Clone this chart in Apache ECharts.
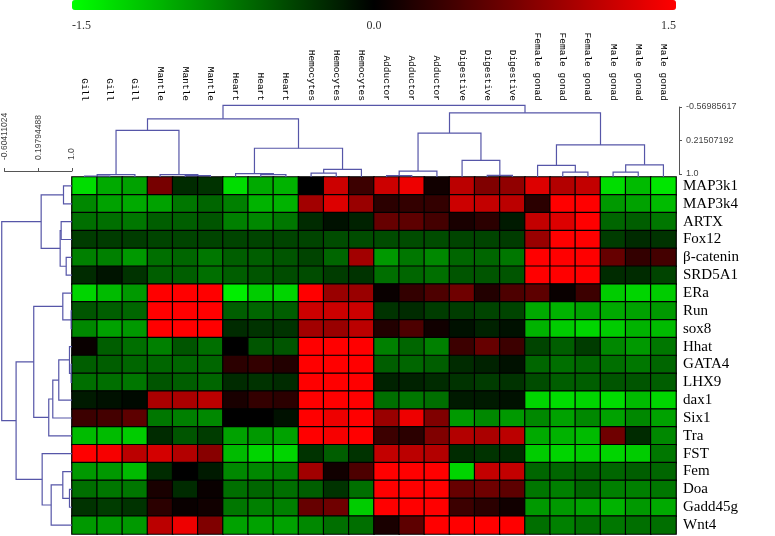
<!DOCTYPE html>
<html><head><meta charset="utf-8">
<script src="https://cdn.jsdelivr.net/npm/echarts@6/dist/echarts.min.js"></script>
<style>html,body{margin:0;padding:0;background:#fff}#c{width:775px;height:536px}</style>
</head><body><div id="c"></div>
<script>
// ---- column / row labels ----
const columns = ['Gill','Gill','Gill','Mantle','Mantle','Mantle','Heart','Heart','Heart',
  'Hemocytes','Hemocytes','Hemocytes','Adductor','Adductor','Adductor','Digestive','Digestive','Digestive',
  'Female gonad','Female gonad','Female gonad','Male gonad','Male gonad','Male gonad'];
const genes = ['MAP3k1','MAP3k4','ARTX','Fox12','β-catenin','SRD5A1','ERa','Run','sox8','Hhat',
  'GATA4','LHX9','dax1','Six1','Tra','FST','Fem','Doa','Gadd45g','Wnt4'];

// ---- expression values (one array per gene, 24 columns) ----
const vMAP3k1  = [-1.3,-1.0,-0.95,0.7,-0.25,-0.3,-1.3,-1.0,-1.05,0.0,1.2,0.35, 1.2,1.4,0.1,1.1,0.75,0.85,1.3,1.05,1.15,-1.3,-1.1,-1.35];
const vMAP3k4  = [-0.8,-0.95,-1.0,-0.95,-0.7,-0.6,-0.75,-1.05,-1.05,0.95,1.3,0.9, 0.25,0.3,0.3,1.2,1.15,1.1,0.25,1.5,1.5,-0.9,-0.95,-1.1];
const vARTX    = [-0.65,-0.65,-0.7,-0.55,-0.55,-0.5,-0.75,-0.8,-0.7,-0.25,-0.1,-0.2, 0.6,0.55,0.4,0.15,0.25,-0.15,1.15,1.3,1.5,-0.6,-0.55,-0.7];
const vFox12   = [-0.35,-0.35,-0.35,-0.4,-0.4,-0.4,-0.4,-0.4,-0.4,-0.4,-0.45,-0.45, -0.45,-0.45,-0.45,-0.4,-0.4,-0.35,0.9,1.5,1.5,-0.35,-0.25,-0.3];
const vBcat    = [-0.75,-0.75,-0.9,-0.65,-0.6,-0.7,-0.55,-0.55,-0.5,-0.4,-0.6,0.95, -0.9,-0.7,-0.8,-0.6,-0.6,-0.7,1.5,1.5,1.5,0.6,0.3,0.4];
const vSRD5A1  = [-0.25,-0.12,-0.3,-0.55,-0.55,-0.65,-0.55,-0.5,-0.45,-0.45,-0.35,-0.3, -0.65,-0.6,-0.65,-0.5,-0.5,-0.5,1.5,1.5,1.5,-0.25,-0.25,-0.4];
const vERa     = [-1.25,-1.1,-0.9,1.5,1.5,1.5,-1.4,-1.2,-1.25,1.5,0.9,0.9, 0.05,0.3,0.45,0.65,0.2,0.45,0.55,0.05,0.35,-1.2,-1.25,-1.2];
const vRun     = [-0.5,-0.55,-0.6,1.5,1.5,1.5,-0.55,-0.6,-0.55,1.2,1.2,1.2, -0.3,-0.25,-0.35,-0.35,-0.4,-0.4,-1.0,-1.05,-0.95,-1.0,-0.95,-0.9];
const vSox8    = [-0.8,-0.95,-0.9,1.5,1.5,1.5,-0.25,-0.3,-0.3,0.95,0.9,1.1, 0.2,0.45,0.1,-0.1,-0.2,-0.1,-1.05,-1.2,-1.25,-1.2,-1.05,-1.1];
const vHhat    = [0.05,-0.55,-0.65,-0.75,-0.5,-0.65,0.0,-0.5,-0.5,1.5,1.5,1.5, -0.75,-0.6,-0.75,0.35,0.6,0.35,-0.4,-0.55,-0.35,-0.8,-0.9,-0.7];
const vGATA4   = [-0.55,-0.55,-0.6,-0.6,-0.6,-0.6,0.25,0.3,0.2,1.5,1.5,1.5, -0.55,-0.6,-0.55,-0.25,-0.2,-0.1,-0.6,-0.65,-0.6,-0.65,-0.7,-0.6];
const vLHX9    = [-0.65,-0.65,-0.7,-0.5,-0.55,-0.6,-0.25,-0.3,-0.25,1.5,1.5,1.5, -0.2,-0.2,-0.25,-0.3,-0.35,-0.3,-0.45,-0.55,-0.55,-0.5,-0.5,-0.55];
const vDax1    = [-0.15,-0.1,-0.05,1.0,1.0,1.1,0.15,0.3,0.25,1.5,1.5,1.5, -0.65,-0.7,-0.65,-0.15,-0.15,-0.1,-1.25,-1.3,-1.25,-1.3,-1.1,-1.25];
const vSix1    = [0.35,0.4,0.55,-0.7,-0.75,-0.8,0.0,0.0,-0.1,1.5,1.4,1.5, 0.9,1.4,0.75,-0.9,-0.8,-0.9,-0.8,-0.95,-0.8,-0.95,-0.8,-0.95];
const vTra     = [-1.1,-1.1,-1.2,-0.25,-0.5,-0.35,-0.95,-0.9,-0.95,1.5,1.45,1.5, 0.35,0.25,0.75,1.05,1.0,1.1,-1.0,-1.05,-1.1,0.65,-0.25,-0.8];
const vFST     = [1.5,1.45,1.1,1.25,1.05,0.8,-1.1,-1.25,-1.25,-0.3,-0.55,-0.3, 1.15,1.1,1.05,-0.25,-0.3,-0.25,-1.2,-1.25,-1.2,-1.25,-1.2,-0.7];
const vFem     = [-0.9,-0.9,-1.1,-0.25,0.0,-0.15,-0.8,-0.8,-0.75,0.95,0.1,0.45, 1.5,1.5,1.5,-1.25,1.15,1.15,-0.6,-0.6,-0.55,-0.6,-0.55,-0.6];
const vDoa     = [-0.65,-0.7,-0.7,0.15,-0.25,0.05,-0.65,-0.6,-0.65,-0.55,-0.3,-0.65, 1.5,1.5,1.5,0.6,0.65,0.55,-0.7,-0.75,-0.6,-0.75,-0.75,-0.7];
const vGadd45g = [-0.3,-0.35,-0.3,0.25,0.05,0.1,-0.7,-0.75,-0.75,0.6,0.65,-1.2, 1.5,1.5,1.5,0.35,0.25,0.1,-0.9,-0.9,-0.95,-1.05,-0.9,-1.0];
const vWnt4    = [-0.9,-0.9,-0.9,1.1,1.4,0.75,-0.95,-0.95,-0.95,-0.8,-0.65,-0.65, 0.15,0.55,1.5,1.5,1.5,1.5,-0.65,-0.75,-0.65,-0.7,-0.65,-0.65];

// ---- dendrogram linkages: [childA, childB, similarity]; ids >= nLeaves are earlier merges ----
const colLinkage = [[0,1,0.978],[24,2,0.95],[4,5,0.972],[3,26,0.95],[25,27,-0.022],
  [7,8,0.95],[6,29,0.928],[9,10,0.913],[31,11,0.833],[30,32,0.37],[28,33,-0.276],
  [12,13,0.972],[35,14,0.87],[16,17,0.963],[15,37,0.637],[36,38,0.037],
  [19,20,0.891],[18,40,0.746],[21,22,0.891],[42,23,0.733],[41,43,0.298],[39,44,-0.407],[34,45,-0.57]];
const rowLinkage = [[0,1,0.804],[2,3,0.75],[4,5,0.866],[21,22,0.727],[20,23,0.289],
  [7,8,0.98],[6,25,0.788],[10,11,0.98],[9,27,0.942],[28,12,0.695],[29,13,0.557],[30,14,0.464],
  [26,31,0.118],[17,18,0.942],[16,33,0.788],[34,19,0.52],[15,35,0.312],[32,36,-0.289],[24,37,-0.62]];

// ---- scale tick labels ----
const colorTicks = [-1.5, 0.0, 1.5];
const colScaleTicks = [-0.56985617, 0.21507192, 1.0];
const colScaleLabels = ['-0.56985617', '0.21507192', '1.0'];
const rowScaleTicks = [-0.60411024, 0.19794488, 1.0];
const rowScaleLabels = ['-0.60411024', '0.19794488', '1.0'];

// ---------------------------------------------------------------
const matrix = [vMAP3k1,vMAP3k4,vARTX,vFox12,vBcat,vSRD5A1,vERa,vRun,vSox8,vHhat,
  vGATA4,vLHX9,vDax1,vSix1,vTra,vFST,vFem,vDoa,vGadd45g,vWnt4];
const heatData = [];
matrix.forEach((row, r) => row.forEach((v, c) => heatData.push([c, r, v])));

function dendroSegments(linkage, nLeaves) {
  const pos = [], hgt = [], segs = [];
  for (let i = 0; i < nLeaves; i++) { pos.push(i + 0.5); hgt.push(1.0); }
  linkage.forEach(([a, b, h]) => {
    segs.push([pos[a], hgt[a], pos[b], hgt[b], h]);
    pos.push((pos[a] + pos[b]) / 2); hgt.push(h);
  });
  return segs;
}
const colSegs = dendroSegments(colLinkage, columns.length);
const rowSegs = dendroSegments(rowLinkage, genes.length);

const LINE = '#5656a8';
const HM = {left: 72, top: 177, width: 604, height: 357};

function hiddenAxis(idx, extra) {
  return Object.assign({gridIndex: idx, type: 'value', show: false}, extra || {});
}

const chart = echarts.init(document.getElementById('c'), null, {renderer: 'canvas'});
chart.setOption({
  animation: false,
  backgroundColor: '#fff',
  grid: [
    {left: HM.left, top: HM.top, width: HM.width, height: HM.height},           // 0 heatmap
    {left: HM.left, top: 104, width: HM.width, height: HM.top - 104},           // 1 top dendrogram
    {left: 0, top: HM.top, width: HM.left, height: HM.height},                  // 2 left dendrogram
    {left: 679, top: 107, width: 10, height: 67},                               // 3 top scale
    {left: 3, top: 170, width: 69, height: 1},                                  // 4 left scale
    {left: HM.left, top: 0, width: HM.width, height: 10}                        // 5 color bar labels
  ],
  xAxis: [
    {gridIndex: 0, type: 'category', data: columns, position: 'top',
      axisLine: {show: false}, axisTick: {show: false}, splitLine: {show: false},
      axisLabel: {interval: 0, rotate: 90, margin: 76, fontFamily: 'Liberation Mono', fontSize: 9.5, color: '#000'}},
    hiddenAxis(1, {min: 0, max: columns.length}),
    hiddenAxis(2, {min: -0.66, max: 1.0}),
    hiddenAxis(3, {min: 0, max: 1}),
    {gridIndex: 4, type: 'value', position: 'top', min: rowScaleTicks[0], max: 1.0,
      axisLine: {show: true, lineStyle: {color: '#555', width: 1}},
      axisTick: {show: true, length: 3, customValues: rowScaleTicks, lineStyle: {color: '#555'}},
      splitLine: {show: false},
      axisLabel: {rotate: 90, margin: 10, fontFamily: 'Liberation Sans', fontSize: 8.5, color: '#444',
        customValues: rowScaleTicks,
        formatter: v => rowScaleLabels[rowScaleTicks.findIndex(t => Math.abs(t - v) < 1e-6)] || ''}},
    {gridIndex: 5, type: 'value', min: -1.5, max: 1.5, interval: 1.5, position: 'bottom',
      axisLine: {show: false}, axisTick: {show: false}, splitLine: {show: false},
      axisLabel: {margin: 10, fontFamily: 'Liberation Serif', fontSize: 12, color: '#333',
        customValues: colorTicks, alignMinLabel: 'left', alignMaxLabel: 'right',
        formatter: v => v.toFixed(1)}}
  ],
  yAxis: [
    {gridIndex: 0, type: 'category', data: genes, inverse: true, position: 'right',
      axisLine: {show: false}, axisTick: {show: false}, splitLine: {show: false},
      axisLabel: {interval: 0, margin: 7, fontFamily: 'Liberation Serif', fontSize: 15, color: '#000'}},
    hiddenAxis(1, {min: -0.6, max: 1.0, inverse: true}),
    hiddenAxis(2, {min: 0, max: genes.length, inverse: true}),
    {gridIndex: 3, type: 'value', position: 'left', min: colScaleTicks[0], max: 1.0, inverse: true,
      axisLine: {show: true, lineStyle: {color: '#555', width: 1}},
      axisTick: {show: true, inside: true, length: 3, customValues: colScaleTicks, lineStyle: {color: '#555'}},
      splitLine: {show: false},
      axisLabel: {inside: true, margin: 7, fontFamily: 'Liberation Sans', fontSize: 9, color: '#444',
        customValues: colScaleTicks,
        formatter: v => colScaleLabels[colScaleTicks.findIndex(t => Math.abs(t - v) < 1e-6)] || ''}},
    hiddenAxis(4, {min: 0, max: 1}),
    hiddenAxis(5, {min: 0, max: 1})
  ],
  visualMap: {
    type: 'continuous', min: -1.5, max: 1.5, seriesIndex: 0, dimension: 2,
    orient: 'horizontal', left: HM.left, top: 0, itemWidth: 10, itemHeight: HM.width,
    padding: 0, calculable: false, realtime: false, hoverLink: false, text: null,
    inRange: {color: ['#00ff00', '#000000', '#ff0000']}
  },
  series: [
    {type: 'heatmap', xAxisIndex: 0, yAxisIndex: 0, data: heatData,
      itemStyle: {borderColor: '#000', borderWidth: 1.2}, emphasis: {disabled: true}},
    {type: 'custom', xAxisIndex: 1, yAxisIndex: 1, data: colSegs, silent: true,
      renderItem: (p, api) => ({type: 'polyline', shape: {points: [
        api.coord([api.value(0), api.value(1)]), api.coord([api.value(0), api.value(4)]),
        api.coord([api.value(2), api.value(4)]), api.coord([api.value(2), api.value(3)])]},
        style: {stroke: LINE, lineWidth: 1.2, fill: 'none'}})},
    {type: 'custom', xAxisIndex: 2, yAxisIndex: 2, data: rowSegs, silent: true,
      renderItem: (p, api) => ({type: 'polyline', shape: {points: [
        api.coord([api.value(1), api.value(0)]), api.coord([api.value(4), api.value(0)]),
        api.coord([api.value(4), api.value(2)]), api.coord([api.value(3), api.value(2)])]},
        style: {stroke: LINE, lineWidth: 1.2, fill: 'none'}})}
  ]
});
</script></body></html>
